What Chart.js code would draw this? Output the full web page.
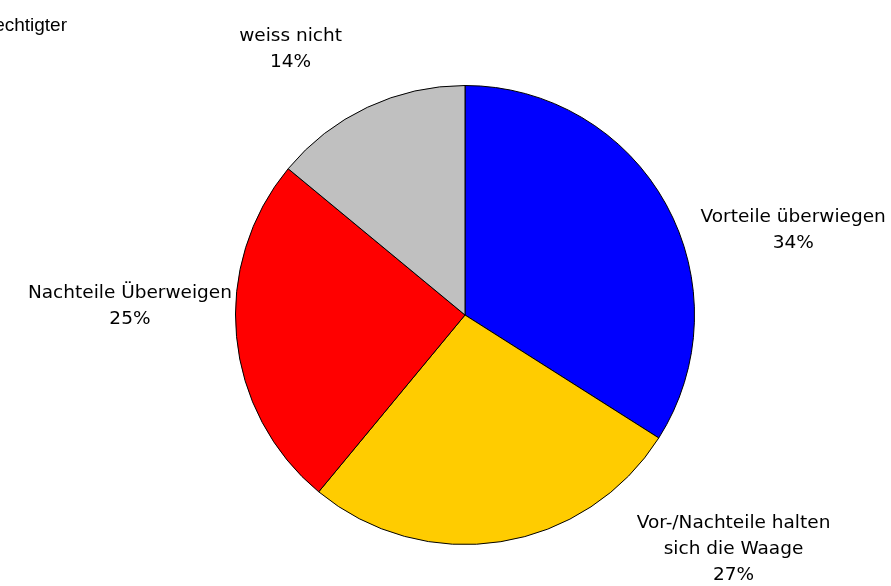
<!DOCTYPE html>
<html lang="de">
<head>
    <meta charset="UTF-8">
    <title>Vor- und Nachteile</title>
    <script src="https://cdn.jsdelivr.net/npm/chart.js"></script>
    <style>
        html, body { margin: 0; padding: 0; background: #fff; }
        #wrap { width: 891px; height: 586px; position: relative; }
    </style>
</head>
<body>
    <div id="wrap"><canvas id="pie"></canvas></div>

    <script>
        // Data
        const categories = ['Vorteile überwiegen', 'Vor-/Nachteile halten sich die Waage', 'Nachteile Überweigen', 'weiss nicht'];
        const shares = [34, 27, 25, 14];
        const sliceColors = ['#0000ff', '#ffcc00', '#ff0000', '#c0c0c0'];
        // label text lines per slice
        const labelLines = [
            ['Vorteile überwiegen'],
            ['Vor-/Nachteile halten', 'sich die Waage'],
            ['Nachteile Überweigen'],
            ['weiss nicht']
        ];
        const titleText = 'Stimmberechtigter';

        // label offsets from pie centre, in units of radius
        const labelOffsets = [
            [1.43, -0.37],
            [1.17, 1.02],
            [-1.46, -0.04],
            [-0.76, -1.16]
        ];

        const labelFont = '18.5px "DejaVu Sans", Tahoma, sans-serif';

        const sliceLabels = {
            id: 'sliceLabels',
            afterDraw(chart) {
                const ctx = chart.ctx;
                const arc = chart.getDatasetMeta(0).data[0];
                const cx = arc.x, cy = arc.y, r = arc.outerRadius;
                ctx.save();
                ctx.fillStyle = '#000';
                ctx.font = labelFont;
                ctx.textAlign = 'center';
                ctx.textBaseline = 'middle';
                const lh = 26;
                shares.forEach((v, i) => {
                    const lines = labelLines[i].concat([v + '%']);
                    const x = cx + labelOffsets[i][0] * r;
                    const y = cy + labelOffsets[i][1] * r;
                    const top = y - (lines.length - 1) * lh / 2;
                    lines.forEach((t, k) => ctx.fillText(t, x, top + k * lh));
                });
                // cut-off title at top left
                ctx.font = '19px "Liberation Sans", Arial, sans-serif';
                ctx.textAlign = 'right';
                ctx.fillText(titleText, 67, 26);
                ctx.restore();
            }
        };

        new Chart(document.getElementById('pie'), {
            type: 'pie',
            data: {
                labels: categories,
                datasets: [{
                    data: shares,
                    backgroundColor: sliceColors,
                    borderColor: '#000',
                    borderWidth: 1
                }]
            },
            options: {
                responsive: true,
                maintainAspectRatio: false,
                animation: false,
                layout: { padding: { top: 85, bottom: 41, left: 100, right: 61 } },
                plugins: {
                    legend: { display: false },
                    tooltip: { enabled: false }
                }
            },
            plugins: [sliceLabels]
        });
    </script>
</body>
</html>
